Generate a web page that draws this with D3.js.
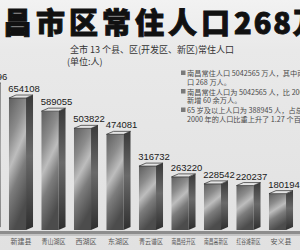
<!DOCTYPE html>
<html>
<head>
<meta charset="utf-8">
<script src="https://cdn.jsdelivr.net/npm/d3@7"></script>
<style>
  html, body { margin: 0; padding: 0; background: #e6e6e6; }
  #chart svg { display: block; }
</style>
</head>
<body>
<div id="chart"></div>
<script>
// chart data (read from the newspaper graphic)
const titleText = '南昌市区常住人口';
const titleNumber = '268万';
const subtitleText = '全市 13 个县、区(开发区、新区)常住人口';
const unitText = '(单位:人)';

const categories = ['进贤县', '新建县', '青山湖区', '西湖区', '东湖区', '青云谱区',
    '南昌经开区', '南昌高新区', '红谷滩新区', '安义县', '湾里区'];
const population = [713696, 654108, 589055, 503822, 474081, 316732,
    263220, 228542, 220237, 180194, 67396];

const noteLines = [
    ['南昌常住人口 5042565 万人，其中南昌市区人', '口 268 万人。'],
    ['南昌常住人口为 5042565 人，比 2000 年', '新增 60 余万人。'],
    ['65 岁及以上人口为 388945 人，占总人口', '2000 年的人口比重上升了 1.27 个百分点']
];

const width = 300, height = 250;
const baseY = 230;
const depth = { x: 7, y: 3 }; // fake 3d offset of the bar side
const maxLabelW = 24;         // category labels get squeezed to this

const cjk = '"Noto Sans CJK SC", "Noto Sans", sans-serif';

const svg = d3.select('#chart').append('svg')
    .attr('width', width)
    .attr('height', height)
    .attr('viewBox', `0 0 ${width} ${height}`);

const defs = svg.append('defs');

const bg = defs.append('linearGradient').attr('id', 'bg')
    .attr('x1', 0).attr('y1', 0).attr('x2', 0).attr('y2', 1);
bg.append('stop').attr('offset', '0%').attr('stop-color', '#f2f2f2');
bg.append('stop').attr('offset', '20%').attr('stop-color', '#e9e9e9');
bg.append('stop').attr('offset', '100%').attr('stop-color', '#e1e1e1');

// metallic front face
const front = defs.append('linearGradient').attr('id', 'front')
    .attr('x1', 0).attr('y1', 0).attr('x2', 0.3).attr('y2', 1);
[['0%', '#5e5e5e'], ['30%', '#8c8c8c'], ['50%', '#bdbdbd'], ['70%', '#7c7c7c'], ['100%', '#4c4c4c']]
    .forEach(([o, c]) => front.append('stop').attr('offset', o).attr('stop-color', c));

const side = defs.append('linearGradient').attr('id', 'side')
    .attr('x1', 0).attr('y1', 0).attr('x2', 0).attr('y2', 1);
[['0%', '#3a3a3a'], ['45%', '#6a6a6a'], ['100%', '#2f2f2f']]
    .forEach(([o, c]) => side.append('stop').attr('offset', o).attr('stop-color', c));

svg.append('rect')
    .attr('width', width).attr('height', height)
    .attr('fill', 'url(#bg)');

// big headline, cropped on both sides like the clipping
const title = svg.append('text')
    .attr('x', -30)
    .attr('y', 34)
    .attr('font-family', cjk)
    .attr('font-weight', 900)
    .attr('font-size', 29)
    .attr('fill', '#111')
    .attr('stroke', '#111')
    .attr('stroke-width', 0.9);
title.append('tspan').attr('letter-spacing', 4).text(titleText);
title.append('tspan').attr('letter-spacing', 2).text(titleNumber);

svg.append('text')
    .attr('x', 70).attr('y', 53)
    .attr('font-family', cjk)
    .attr('font-size', 9)
    .attr('fill', '#333')
    .text(subtitleText);

svg.append('text')
    .attr('x', 67).attr('y', 65)
    .attr('font-family', cjk)
    .attr('font-size', 9)
    .attr('fill', '#333')
    .text(unitText);

// scales
const x = d3.scaleBand()
    .domain(categories)
    .range([-27.75, 329.75])
    .paddingInner(0.26)
    .paddingOuter(0.13);

const y = d3.scaleLinear()
    .domain([0, d3.max(population)])
    .range([baseY, 86]);

const data = categories.map((c, i) => ({ name: c, value: population[i] }));
const faceW = x.bandwidth() - depth.x;

// base strip
svg.append('rect')
    .attr('x', 0).attr('y', baseY + 1)
    .attr('width', width).attr('height', 3)
    .attr('fill', '#8d8d8d');
svg.append('rect')
    .attr('x', 0).attr('y', baseY + 4)
    .attr('width', width).attr('height', 2)
    .attr('fill', '#c4c4c4');

const bars = svg.selectAll('.bar')
    .data(data)
    .enter()
    .append('g')
    .attr('class', 'bar');

bars.append('rect')
    .attr('x', d => x(d.name))
    .attr('y', d => y(d.value))
    .attr('width', faceW)
    .attr('height', d => baseY - y(d.value))
    .attr('fill', 'url(#front)');

bars.append('path')
    .attr('d', d => {
        const x0 = x(d.name) + faceW, t = y(d.value);
        return `M${x0},${t} L${x0 + depth.x},${t - depth.y} L${x0 + depth.x},${baseY - depth.y} L${x0},${baseY} Z`;
    })
    .attr('fill', 'url(#side)');

bars.append('path')
    .attr('d', d => {
        const x0 = x(d.name), t = y(d.value);
        return `M${x0},${t} L${x0 + faceW},${t} L${x0 + faceW + depth.x},${t - depth.y} L${x0 + depth.x},${t - depth.y} Z`;
    })
    .attr('fill', '#e4e4e4')
    .attr('stroke', '#2a2a2a')
    .attr('stroke-width', 0.7);

bars.append('text')
    .attr('x', d => x(d.name) + x.bandwidth() / 2 + 3)
    .attr('y', d => y(d.value) - 6)
    .attr('text-anchor', 'middle')
    .attr('font-family', '"Liberation Sans", Arial, sans-serif')
    .attr('font-size', 9.5)
    .attr('fill', '#1a1a1a')
    .text(d => d.value);

// category axis (no line, just labels)
const axis = svg.append('g')
    .attr('transform', `translate(0, ${baseY + 9})`)
    .call(d3.axisBottom(x).tickSize(0).tickPadding(0));
axis.select('.domain').remove();
axis.selectAll('text')
    .attr('font-family', cjk)
    .attr('font-size', 7)
    .attr('fill', '#5a5a5a')
    .each(function () {
        // long names are squeezed in the print version
        if (this.getComputedTextLength() > maxLabelW) {
            d3.select(this)
                .attr('textLength', maxLabelW)
                .attr('lengthAdjust', 'spacingAndGlyphs');
        }
    });

// notes block on the right
const notes = svg.append('g').attr('transform', 'translate(181, 0)');
const noteTop = [76, 94.5, 113];
noteLines.forEach((lines, i) => {
    notes.append('rect')
        .attr('x', 0).attr('y', noteTop[i] - 5.5)
        .attr('width', 4.5).attr('height', 4.5)
        .attr('fill', '#7a7a7a');
    lines.forEach((ln, j) => {
        notes.append('text')
            .attr('x', 6)
            .attr('y', noteTop[i] + j * 8.5)
            .attr('font-family', cjk)
            .attr('font-size', 7.2)
            .attr('fill', '#4a4a4a')
            .text(ln);
    });
});
</script>
</body>
</html>
